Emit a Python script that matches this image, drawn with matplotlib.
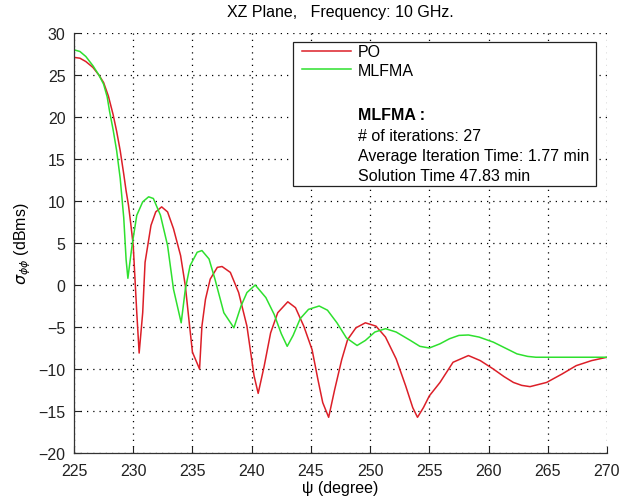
import matplotlib
matplotlib.use("Agg")
import matplotlib.pyplot as plt
from matplotlib.patches import Rectangle
from matplotlib.lines import Line2D

plt.rcParams['font.family'] = ['Liberation Sans', 'DejaVu Sans']

# ---- data ----
po_x = [225.0, 225.5, 226.0, 226.6, 227.1, 227.5, 227.9, 228.3, 228.6, 228.9, 229.2, 229.4,
        229.6, 229.8, 230.0, 230.3, 230.5, 230.8, 231.0, 231.5, 231.9, 232.4, 232.9, 233.4,
        234.0, 234.4, 234.7, 235.0, 235.6, 235.8, 236.1, 236.5, 237.1, 237.5, 238.2, 238.9,
        239.6, 240.2, 240.55, 241.05, 241.6, 242.2, 243.05, 243.7, 244.4, 245.1, 245.6, 246.0,
        246.5, 247.0, 247.6, 248.1, 248.8, 249.6, 250.5, 251.3, 252.2, 253.0, 253.6, 254.0,
        254.5, 255.0, 255.9, 257.0, 258.3, 259.3, 260.4, 261.3, 262.1, 262.8, 263.5, 264.9,
        266.2, 267.4, 268.7, 270.0]
po_y = [27.1, 27.0, 26.6, 25.9, 25.0, 24.1, 22.5, 20.3, 18.3, 16.0, 13.2, 11.2,
        9.5, 7.2, 4.7, -3.3, -8.1, -3.3, 2.7, 7.1, 8.7, 9.3, 8.7, 6.7,
        3.5, -0.1, -4.1, -8.0, -10.0, -4.9, -1.7, 0.7, 2.1, 2.2, 1.5, -0.9,
        -4.9, -10.8, -12.9, -9.7, -5.7, -3.3, -2.0, -2.7, -4.9, -7.7, -11.3, -14.0,
        -15.75, -12.5, -8.9, -6.5, -5.1, -4.5, -4.9, -6.2, -8.8, -12.0, -14.6, -15.75,
        -14.6, -13.2, -11.6, -9.2, -8.4, -9.0, -10.0, -10.9, -11.6, -11.95, -12.1, -11.6,
        -10.6, -9.6, -9.0, -8.6]

mlfma_x = [225.0, 225.5, 226.0, 226.6, 227.1, 227.5, 227.8, 228.0, 228.3, 228.6, 228.9, 229.2,
           229.4, 229.55, 229.9, 230.3, 230.8, 231.3, 231.7, 232.3, 232.9, 233.4, 234.05, 234.4,
           234.8, 235.4, 235.8, 236.4, 236.9, 237.65, 238.5, 239.1, 239.6, 240.3, 241.2, 241.9,
           242.5, 243.0, 243.5, 244.1, 244.8, 245.7, 246.4, 247.2, 248.0, 248.9, 249.6, 250.4,
           251.3, 252.2, 253.4, 254.2, 255.0, 255.9, 256.7, 257.5, 258.3, 259.2, 260.4, 261.4,
           262.4, 263.3, 264.0, 266.0, 268.0, 270.0]
mlfma_y = [28.0, 27.8, 27.2, 26.1, 25.0, 23.9, 22.4, 20.7, 18.5, 16.0, 12.7, 8.0,
           3.0, 0.8, 4.7, 8.3, 9.9, 10.5, 10.3, 8.3, 4.7, -0.5, -4.5, -0.5,
           2.3, 3.9, 4.1, 3.1, 0.7, -3.3, -5.1, -2.5, -0.9, 0.0, -1.5, -3.5,
           -5.8, -7.3, -6.0, -4.0, -2.9, -2.5, -3.0, -4.5, -6.3, -7.2, -6.6, -5.6,
           -5.2, -5.6, -6.6, -7.3, -7.5, -7.0, -6.4, -6.0, -5.95, -6.2, -6.8, -7.5,
           -8.2, -8.5, -8.6, -8.6, -8.6, -8.6]

x_ticks = [225, 230, 235, 240, 245, 250, 255, 260, 265, 270]
y_ticks = [-20, -15, -10, -5, 0, 5, 10, 15, 20, 25, 30]
series_labels = ['PO', 'MLFMA']
info_lines = ['# of iterations: 27', 'Average Iteration Time: 1.77 min', 'Solution Time 47.83 min']

red = '#dc1f28'
green = '#2ee02e'
fs = 11.5

fig = plt.figure(figsize=(6.19, 5.02), dpi=100)
ax = fig.add_axes([74/619, 1-454/502, 533/619, 420/502])

ax.plot(po_x, po_y, color=red, lw=1.1)
ax.plot(mlfma_x, mlfma_y, color=green, lw=1.1)

ax.set_xlim(225, 270)
ax.set_ylim(-20, 30)
ax.set_xticks(x_ticks)
ax.set_yticks(y_ticks)
ax.tick_params(direction='in', length=5, width=0.8, labelsize=fs, colors='#222222', pad=7)
ax.tick_params(axis='y', pad=6)
for s in ['top', 'right']:
    ax.spines[s].set_visible(False)
for s in ['left', 'bottom']:
    ax.spines[s].set_color('#333333')
    ax.spines[s].set_linewidth(0.9)
ax.grid(True, color='black', linestyle=(0, (1, 4)), linewidth=0.9)

ax.set_title('XZ Plane,   Frequency: 10 GHz.', fontsize=fs, pad=12)
ax.set_xlabel('\u03c8 (degree)', fontsize=fs, labelpad=2)
ax.set_ylabel(r'$\sigma_{\phi\phi}$ (dBms)', fontsize=fs, labelpad=4)

# legend box
box = Rectangle((0.411, 0.636), 0.568, 0.343, transform=ax.transAxes,
                facecolor='white', edgecolor='#222222', lw=0.9, zorder=5)
ax.add_patch(box)
handles = [Line2D([], [], color=red, lw=1.1), Line2D([], [], color=green, lw=1.1)]
leg = ax.legend(handles, series_labels, loc='upper left', bbox_to_anchor=(0.418, 0.985),
                frameon=False, fontsize=fs, handlelength=3.1, handletextpad=0.4,
                labelspacing=0.25, borderpad=0.3, borderaxespad=0)
leg.set_zorder(6)

tx = 0.532
ax.text(tx, 1-(116-34)/420, 'MLFMA :', transform=ax.transAxes, fontsize=fs,
        fontweight='bold', va='center', ha='left', zorder=7)
for i, line in enumerate(info_lines):
    ax.text(tx, 1-(137 + 19.7*i - 34)/420, line, transform=ax.transAxes, fontsize=fs,
            va='center', ha='left', zorder=7)

fig.savefig('out.png', dpi=100, facecolor='white')
